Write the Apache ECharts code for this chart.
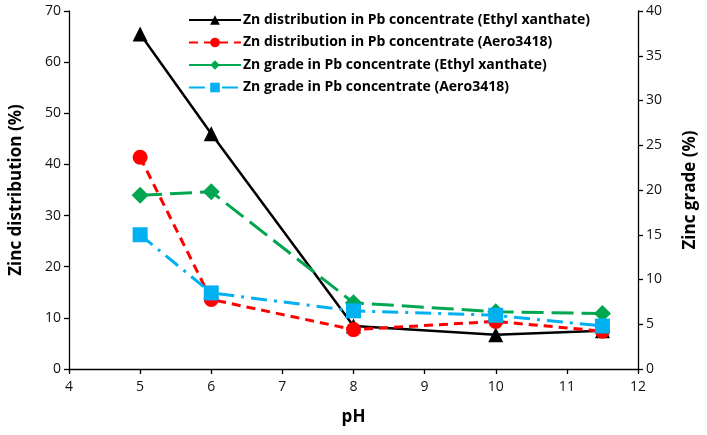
<!DOCTYPE html>
<html>
<head>
<meta charset="utf-8">
<script src="https://cdn.jsdelivr.net/npm/echarts@6/dist/echarts.min.js"></script>
<style>html,body{margin:0;padding:0;background:#fff;}#c{width:707px;height:435px;}</style>
</head>
<body>
<div id="c"></div>
<script>
const pH = [5, 6, 8, 10, 11.5];
const znDistEthyl = [65.5, 46, 8.4, 6.7, 7.5];
const znDistAero = [41.4, 13.6, 7.7, 9.3, 7.4];
const znGradeEthyl = [19.4, 19.8, 7.4, 6.4, 6.2];
const znGradeAero = [15.0, 8.5, 6.5, 6.0, 4.8];
const seriesNames = [
  'Zn distribution in Pb concentrate (Ethyl xanthate)',
  'Zn distribution in Pb concentrate (Aero3418)',
  'Zn grade in Pb concentrate (Ethyl xanthate)',
  'Zn grade in Pb concentrate (Aero3418)'
];
const pair = (ys) => pH.map((x, i) => [x, ys[i]]);
const font = 'Open Sans';
const chart = echarts.init(document.getElementById('c'));
const axisCommon = {
  axisLine: {show: true, lineStyle: {color: '#000', width: 1.3}},
  axisTick: {show: true, inside: false, length: 5, lineStyle: {color: '#000', width: 1.3}},
  axisLabel: {color: '#111', fontSize: 14, fontFamily: font},
  splitLine: {show: false}
};
chart.setOption({
  animation: false,
  backgroundColor: '#fff',
  grid: {left: 65, right: 67, top: 11, bottom: 66},
  legend: {
    orient: 'vertical', left: 183, top: 8, itemWidth: 52, itemHeight: 12, itemGap: 8.5,
    textStyle: {fontFamily: font, fontWeight: 'bold', fontSize: 14, color: '#000', padding: [0,0,0,-3]},
    data: seriesNames
  },
  xAxis: Object.assign({
    type: 'value', min: 4, max: 12, interval: 1,
    name: 'pH', nameLocation: 'middle', nameGap: 40,
    nameTextStyle: {fontFamily: font, fontWeight: 'bold', fontSize: 17, color: '#000'}
  }, axisCommon, {axisLabel: {color: '#111', fontSize: 14, fontFamily: font, margin: 11}}),
  yAxis: [
    Object.assign({
      type: 'value', min: 0, max: 70, interval: 10, position: 'left',
      name: 'Zinc distribution (%)', nameLocation: 'middle', nameGap: 44, nameRotate: 90,
      nameTextStyle: {fontFamily: font, fontWeight: 'bold', fontSize: 17, color: '#000'}
    }, axisCommon),
    Object.assign({
      type: 'value', min: 0, max: 40, interval: 5, position: 'right',
      name: 'Zinc grade (%)', nameLocation: 'middle', nameGap: 44, nameRotate: 90,
      nameTextStyle: {fontFamily: font, fontWeight: 'bold', fontSize: 17, color: '#000'}
    }, axisCommon)
  ],
  series: [
    {name: seriesNames[0], type: 'line', yAxisIndex: 0, data: pair(znDistEthyl),
     symbol: 'triangle', symbolSize: 15, itemStyle: {color: '#000'},
     lineStyle: {color: '#000', width: 2.5, type: 'solid'}},
    {name: seriesNames[1], type: 'line', yAxisIndex: 0, data: pair(znDistAero),
     symbol: 'circle', symbolSize: 15, itemStyle: {color: '#ff0000'},
     lineStyle: {color: '#ff0000', width: 3, type: [9, 6]}},
    {name: seriesNames[2], type: 'line', yAxisIndex: 1, data: pair(znGradeEthyl),
     symbol: 'diamond', symbolSize: 17, itemStyle: {color: '#00a650'},
     lineStyle: {color: '#00a650', width: 3, type: [22, 8]}},
    {name: seriesNames[3], type: 'line', yAxisIndex: 1, data: pair(znGradeAero),
     symbol: 'rect', symbolSize: 15, itemStyle: {color: '#00b0f0'},
     lineStyle: {color: '#00b0f0', width: 3, type: [16, 7, 3, 7]}}
  ]
});
</script>
</body>
</html>
